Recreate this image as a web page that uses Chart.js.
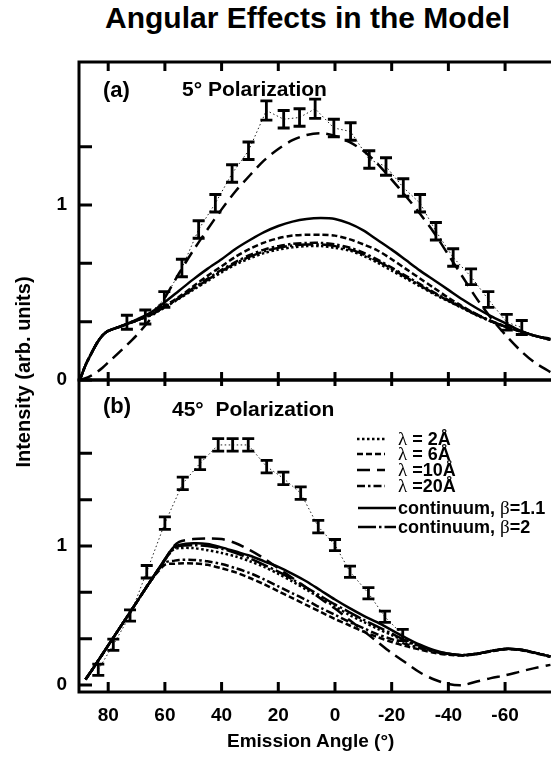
<!DOCTYPE html>
<html>
<head>
<meta charset="utf-8">
<title>Angular Effects in the Model</title>
<script src="https://cdn.jsdelivr.net/npm/chart.js@4.4.1/dist/chart.umd.min.js"></script>
<style>
  html, body { margin: 0; padding: 0; background: #fff; }
  #page { position: relative; width: 551px; height: 764px; overflow: hidden; background: #fff;
          font-family: "Liberation Sans", Arial, sans-serif; font-weight: bold; color: #000; }
  #page canvas { position: absolute; left: 0; }
  #chartA { top: 0; }
  #chartB { top: 350px; }
  .txt { position: absolute; white-space: nowrap; }
  #title { left: 105px; top: 3px; font-size: 30px; line-height: 30px; }
  #xtitle { left: 227px; top: 731px; font-size: 19px; line-height: 19px; }
  #ytitle { left: -127px; top: 362px; width: 300px; height: 20px; font-size: 20px; line-height: 20px;
            text-align: center; transform: rotate(-90deg); }
</style>
</head>
<body>
<div id="page">
  <div id="title" class="txt">Angular Effects in the Model</div>
  <canvas id="chartA" width="551" height="410"></canvas>
  <canvas id="chartB" width="551" height="414"></canvas>
  <div id="ytitle" class="txt">Intensity (arb. units)</div>
  <div id="xtitle" class="txt">Emission Angle (°)</div>
</div>
<script>
// x axis (emission angle, degrees) runs from +90 down to about -76
const xTicks = [80, 60, 40, 20, 0, -20, -40, -60];
const yTicksA = [0, 1/3, 2/3, 1, 4/3];
const yTicksB = [0, 1/3, 2/3, 1, 4/3, 5/3];

const curveLabels = ['λ = 2Å', 'λ = 6Å', 'λ =10Å', 'λ =20Å', 'continuum, β=1.1', 'continuum, β=2'];

// (a) 5° polarization - model curves
const anglesA = [90, 88, 86, 84, 82, 80, 75, 70, 65, 60, 55, 50, 45, 40, 35, 30, 25, 20, 15, 10, 5, 0,
  -5, -10, -15, -20, -25, -30, -35, -40, -45, -50, -55, -60, -65, -70, -76];
const lam2A = [0.00, 0.085, 0.15, 0.21, 0.255, 0.28, 0.31, 0.34, 0.37, 0.415, 0.465, 0.515, 0.565, 0.615, 0.66, 0.695, 0.725, 0.745, 0.758, 0.765, 0.765, 0.755,
  0.74, 0.71, 0.67, 0.625, 0.58, 0.535, 0.49, 0.45, 0.41, 0.37, 0.335, 0.305, 0.28, 0.255, 0.23];
const lam6A = [0.00, 0.085, 0.15, 0.21, 0.255, 0.28, 0.31, 0.34, 0.375, 0.425, 0.475, 0.535, 0.595, 0.65, 0.705, 0.75, 0.785, 0.81, 0.825, 0.83, 0.83, 0.825,
  0.805, 0.775, 0.74, 0.69, 0.635, 0.58, 0.525, 0.47, 0.42, 0.375, 0.335, 0.305, 0.28, 0.255, 0.23];
const lam10A = [0.00, 0.01, 0.025, 0.045, 0.07, 0.10, 0.175, 0.255, 0.35, 0.47, 0.61, 0.74, 0.86, 0.975, 1.08, 1.17, 1.255, 1.32, 1.37, 1.40, 1.41, 1.395,
  1.36, 1.31, 1.235, 1.145, 1.05, 0.95, 0.84, 0.715, 0.59, 0.465, 0.355, 0.26, 0.175, 0.105, 0.045];
const lam20A = [0.00, 0.085, 0.15, 0.21, 0.255, 0.28, 0.31, 0.34, 0.372, 0.42, 0.47, 0.525, 0.578, 0.63, 0.675, 0.715, 0.745, 0.765, 0.778, 0.783, 0.783, 0.775,
  0.757, 0.727, 0.688, 0.642, 0.595, 0.548, 0.5, 0.457, 0.415, 0.375, 0.338, 0.307, 0.28, 0.255, 0.23];
const beta11A = [0.00, 0.085, 0.15, 0.21, 0.255, 0.28, 0.31, 0.345, 0.385, 0.445, 0.51, 0.575, 0.635, 0.69, 0.75, 0.80, 0.845, 0.88, 0.905, 0.92, 0.925, 0.92,
  0.895, 0.855, 0.80, 0.745, 0.685, 0.625, 0.57, 0.515, 0.46, 0.41, 0.365, 0.325, 0.285, 0.255, 0.235];
const beta2A = [0.00, 0.085, 0.15, 0.21, 0.255, 0.28, 0.31, 0.34, 0.372, 0.418, 0.468, 0.52, 0.572, 0.622, 0.668, 0.705, 0.735, 0.755, 0.768, 0.774, 0.774, 0.765,
  0.748, 0.718, 0.68, 0.635, 0.588, 0.54, 0.495, 0.453, 0.412, 0.372, 0.336, 0.306, 0.28, 0.255, 0.23];

// (a) measured points
const ptAngA = [73.4, 66.9, 60.2, 54.0, 48.1, 42.2, 36.3, 30.5, 24.2, 18.1, 12.5, 7.0, 0.4, -5.5, -12.1, -18.0, -24.1, -30.0, -35.6, -41.7, -48.0, -54.1, -60.6, -65.9];
const ptValA = [0.33, 0.36, 0.46, 0.64, 0.86, 1.01, 1.18, 1.31, 1.54, 1.49, 1.50, 1.55, 1.44, 1.42, 1.26, 1.22, 1.10, 1.01, 0.85, 0.70, 0.59, 0.46, 0.33, 0.30];
const ptErrA = [0.04, 0.04, 0.045, 0.05, 0.05, 0.05, 0.05, 0.05, 0.055, 0.05, 0.05, 0.055, 0.05, 0.05, 0.05, 0.05, 0.05, 0.05, 0.05, 0.05, 0.045, 0.045, 0.045, 0.04];

// (b) 45° polarization - model curves
const anglesB = [88, 85, 80, 75, 70, 65, 60, 57, 55, 50, 45, 40, 35, 30, 25, 20, 15, 10, 5, 0,
  -5, -10, -15, -20, -25, -30, -35, -40, -45, -50, -55, -60, -65, -70, -76];
const lam2B = [0.04, 0.13, 0.285, 0.44, 0.595, 0.75, 0.9, 0.975, 0.985, 0.985, 0.97, 0.95, 0.925, 0.89, 0.85, 0.80, 0.745, 0.685, 0.625, 0.565,
  0.505, 0.455, 0.405, 0.36, 0.315, 0.275, 0.245, 0.225, 0.215, 0.225, 0.245, 0.26, 0.255, 0.235, 0.205];
const lam6B = [0.04, 0.13, 0.285, 0.44, 0.595, 0.75, 0.865, 0.872, 0.875, 0.875, 0.865, 0.84, 0.81, 0.77, 0.725, 0.675, 0.625, 0.575, 0.525, 0.475,
  0.43, 0.385, 0.345, 0.31, 0.28, 0.255, 0.232, 0.218, 0.212, 0.222, 0.242, 0.257, 0.252, 0.232, 0.203];
const lam10B = [0.04, 0.13, 0.285, 0.44, 0.595, 0.75, 0.905, 0.995, 1.03, 1.05, 1.055, 1.05, 1.02, 0.97, 0.91, 0.84, 0.77, 0.70, 0.62, 0.55,
  0.47, 0.39, 0.31, 0.23, 0.16, 0.09, 0.04, 0.008, 0.0, 0.025, 0.05, 0.07, 0.095, 0.12, 0.145];
const lam20B = [0.04, 0.13, 0.285, 0.44, 0.595, 0.75, 0.88, 0.893, 0.9, 0.9, 0.89, 0.87, 0.84, 0.805, 0.76, 0.71, 0.66, 0.61, 0.555, 0.505,
  0.455, 0.41, 0.365, 0.33, 0.295, 0.265, 0.24, 0.222, 0.215, 0.225, 0.245, 0.26, 0.255, 0.235, 0.205];
const beta11B = [0.04, 0.13, 0.285, 0.44, 0.595, 0.75, 0.905, 0.99, 1.008, 1.02, 1.015, 0.99, 0.96, 0.93, 0.89, 0.85, 0.80, 0.745, 0.68, 0.615,
  0.555, 0.50, 0.45, 0.395, 0.34, 0.29, 0.25, 0.225, 0.215, 0.225, 0.245, 0.26, 0.255, 0.235, 0.205];
const beta2B = [0.04, 0.13, 0.285, 0.44, 0.595, 0.75, 0.9, 0.98, 1.0, 1.005, 1.0, 0.98, 0.95, 0.91, 0.865, 0.815, 0.76, 0.70, 0.64, 0.58,
  0.525, 0.47, 0.42, 0.37, 0.32, 0.28, 0.245, 0.225, 0.215, 0.225, 0.245, 0.26, 0.255, 0.235, 0.205];

// (b) measured points
const ptAngB = [83.5, 78.2, 72.3, 66.4, 60.0, 53.7, 47.6, 41.2, 36.1, 30.6, 24.1, 18.2, 12.1, 5.9, 0.0, -5.3, -11.8, -17.6, -23.9];
const ptValB = [0.11, 0.29, 0.50, 0.815, 1.165, 1.45, 1.595, 1.727, 1.727, 1.727, 1.571, 1.487, 1.38, 1.139, 1.007, 0.815, 0.66, 0.491, 0.36];
const ptErrB = [0.04, 0.04, 0.04, 0.045, 0.045, 0.045, 0.045, 0.045, 0.045, 0.045, 0.045, 0.045, 0.045, 0.045, 0.04, 0.04, 0.04, 0.04, 0.04];

const curveDash = [[2.5, 2.5], [6, 3], [13, 7], [8, 3, 2.5, 3], [], [18, 3, 2.5, 3]];
const FONT = '"Liberation Sans", Arial, Helvetica, sans-serif';

function series(angles, values) { return angles.map((a, i) => ({ x: a, y: values[i] })); }

function buildDatasets(angles, curves, ptAng, ptVal, ptErr) {
  const ds = curves.map((vals, i) => ({
    label: curveLabels[i], data: series(angles, vals), showLine: true, fill: false,
    borderColor: '#000', borderWidth: 2.5, borderDash: curveDash[i], pointRadius: 0, tension: 0.3,
    inLegend: true
  }));
  ds.push({
    label: 'measured', data: ptAng.map((a, i) => ({ x: a, y: ptVal[i], err: ptErr[i] })),
    showLine: true, borderColor: '#222', borderWidth: 1, borderDash: [1.5, 2.5], pointRadius: 0, tension: 0,
    errorBars: true
  });
  return ds;
}

// box, inward tick marks
const frame = {
  id: 'frame',
  afterDraw(chart, args, o) {
    const { ctx, chartArea: a, scales: { x, y } } = chart;
    ctx.save();
    ctx.strokeStyle = '#000';
    ctx.lineWidth = 3;
    ctx.lineCap = 'square';
    ctx.beginPath();
    ctx.moveTo(a.right + 3, a.top); ctx.lineTo(a.left, a.top);
    ctx.lineTo(a.left, a.bottom); ctx.lineTo(a.right + 3, a.bottom);
    ctx.stroke();
    ctx.lineCap = 'butt';
    ctx.beginPath();
    x.ticks.forEach(t => {
      const px = x.getPixelForValue(t.value);
      ctx.moveTo(px, a.top); ctx.lineTo(px, a.top + o.topTick);
      ctx.moveTo(px, a.bottom); ctx.lineTo(px, a.bottom - o.bottomTick);
    });
    y.ticks.forEach(t => {
      const py = y.getPixelForValue(t.value);
      ctx.moveTo(a.left, py); ctx.lineTo(a.left + 13, py);
    });
    ctx.stroke();
    ctx.restore();
  }
};

// I-shaped error bars on the measured points
const errorBars = {
  id: 'errorBars',
  afterDatasetsDraw(chart) {
    const { ctx, scales: { x, y } } = chart;
    ctx.save();
    ctx.strokeStyle = '#000';
    ctx.lineWidth = 2.8;
    chart.data.datasets.filter(d => d.errorBars).forEach(d => {
      d.data.forEach(p => {
        const px = x.getPixelForValue(p.x);
        const lo = y.getPixelForValue(p.y - p.err), hi = y.getPixelForValue(p.y + p.err);
        ctx.beginPath();
        ctx.moveTo(px, lo); ctx.lineTo(px, hi);
        ctx.moveTo(px - 6, lo); ctx.lineTo(px + 6, lo);
        ctx.moveTo(px - 6, hi); ctx.lineTo(px + 6, hi);
        ctx.stroke();
      });
    });
    ctx.restore();
  }
};

function drawRuns(ctx, text, x, y) {
  text.split(/([λβ])/).filter(s => s).forEach(s => {
    ctx.font = /[λβ]/.test(s) ? '19px "Liberation Serif", "DejaVu Serif", serif' : 'bold 18px ' + FONT;
    ctx.fillText(s, x, y);
    x += ctx.measureText(s).width;
  });
}

// panel tag, panel title and (for b) the key
const panelText = {
  id: 'panelText',
  afterDraw(chart, args, o) {
    const { ctx, chartArea: a } = chart;
    ctx.save();
    ctx.fillStyle = '#000';
    ctx.textBaseline = 'alphabetic';
    ctx.font = 'bold 22px ' + FONT;
    ctx.fillText(o.tag, a.left + 24, a.top + o.tagY);
    ctx.font = 'bold 21px ' + FONT;
    ctx.fillText(o.title, a.left + o.titleX, a.top + o.titleY);
    if (o.legend) {
      const rows = [59, 74, 90, 106, 128, 147];
      chart.data.datasets.filter(d => d.inLegend).forEach((d, i) => {
        const yy = a.top + rows[i];
        const long = d.label.startsWith('continuum');
        ctx.strokeStyle = '#000';
        ctx.lineWidth = 2.6;
        ctx.setLineDash(d.borderDash);
        ctx.beginPath();
        ctx.moveTo(long ? 358 : 357, yy); ctx.lineTo(long ? 396 : 385, yy);
        ctx.stroke();
        ctx.setLineDash([]);
        drawRuns(ctx, d.label, 398, yy + 6);
      });
    }
    ctx.restore();
  }
};

function makeChart(id, datasets, yMin, yMax, yTicks, o) {
  return new Chart(document.getElementById(id), {
    type: 'scatter',
    data: { datasets },
    options: {
      responsive: false,
      animation: false,
      events: [],
      layout: { padding: o.padding },
      plugins: {
        legend: { display: false },
        tooltip: { enabled: false },
        frame: { topTick: o.topTick, bottomTick: o.bottomTick },
        panelText: o.text
      },
      scales: {
        x: {
          type: 'linear', reverse: true, min: -76.2, max: 90.3,
          afterBuildTicks: s => { s.ticks = xTicks.map(v => ({ value: v })); },
          afterFit: s => { s.height = o.xHeight; },
          grid: { display: false, drawTicks: false },
          border: { display: false },
          ticks: {
            display: o.showX, autoSkip: false, maxRotation: 0, padding: 12, color: '#000',
            font: { family: FONT, size: 19, weight: 'bold' },
            callback: v => String(v)
          }
        },
        y: {
          min: yMin, max: yMax,
          afterBuildTicks: s => { s.ticks = yTicks.map(v => ({ value: v })); },
          afterFit: s => { s.width = 79; },
          grid: { display: false, drawTicks: false },
          border: { display: false },
          ticks: {
            autoSkip: false, padding: 12, color: '#000',
            font: { family: FONT, size: 19, weight: 'bold' },
            callback: v => Math.abs(v - Math.round(v)) < 1e-6 ? String(Math.round(v)) : ''
          }
        }
      }
    },
    plugins: [frame, errorBars, panelText]
  });
}

// canvas A: plot box 62..380, canvas B: plot box 380..692 (page pixels)
makeChart('chartA',
  buildDatasets(anglesA, [lam2A, lam6A, lam10A, lam20A, beta11A, beta2A], ptAngA, ptValA, ptErrA),
  0, 1.817, yTicksA,
  { padding: { top: 62, bottom: 30, left: 0, right: 0 }, xHeight: 0, showX: false, topTick: 9, bottomTick: 8,
    text: { tag: '(a)', title: '5° Polarization', tagY: 35, titleX: 103, titleY: 34, legend: false } });

makeChart('chartB',
  buildDatasets(anglesB, [lam2B, lam6B, lam10B, lam20B, beta11B, beta2B], ptAngB, ptValB, ptErrB),
  -0.05, 2.194, yTicksB,
  { padding: { top: 30, bottom: 0, left: 0, right: 0 }, xHeight: 72, showX: true, topTick: 6, bottomTick: 10,
    text: { tag: '(b)', title: '45°  Polarization', tagY: 33, titleX: 93, titleY: 36, legend: true } });
</script>
</body>
</html>
